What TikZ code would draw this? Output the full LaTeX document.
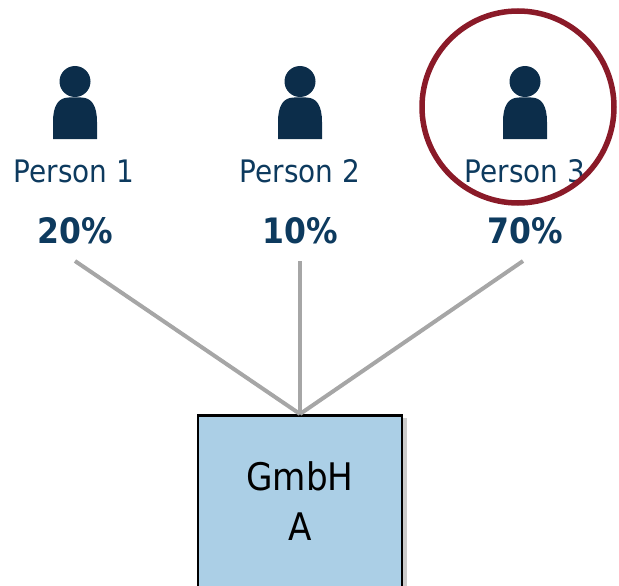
\documentclass[tikz,border=0pt]{standalone}
\usepackage{fontspec}
\setmainfont{DejaVu Sans Condensed}
\usetikzlibrary{shadows}
\definecolor{navy}{HTML}{0C2D4A}
\definecolor{txtnavy}{HTML}{0D3A5E}
\definecolor{boxblue}{HTML}{ABCFE6}
\definecolor{linegray}{HTML}{A6A6A6}
\definecolor{ringred}{HTML}{8A1A28}
\tikzset{
  pname/.style={anchor=base, text=txtnavy, font=\fontsize{31}{33}\selectfont, inner sep=0pt},
  pct/.style={anchor=base, text=txtnavy, font=\bfseries\fontsize{35}{36}\selectfont, inner sep=0pt},
  boxtext/.style={anchor=base, font=\fontsize{38}{40}\selectfont, inner sep=0pt},
  share/.style={draw=linegray, line width=4pt},
  gmbh/.style={draw=black, line width=2.5pt, fill=boxblue, minimum width=204pt, minimum height=200pt, anchor=north,
    drop shadow={shadow xshift=5pt, shadow yshift=-3pt, fill=black, opacity=0.2}},
  ring/.style={draw=ringred, line width=5.5pt},
  person/.pic={
    \fill[navy] (0,81.5) circle (15.5);
    \fill[navy] (-22,139) -- (-22,122) .. controls (-22,106) and (-17,97.5) .. (-6,97.5)
      -- (6,97.5) .. controls (17,97.5) and (22,106) .. (22,122) -- (22,139) -- cycle;
  }
}
\begin{document}
\begin{tikzpicture}[x=1pt,y=-1pt]
\useasboundingbox (0,0) rectangle (619,586);
\clip (0,0) rectangle (619,586);
\pic at (75,0) {person};
\pic at (300,0) {person};
\pic at (525,0) {person};
\node[pname] (n1) at (74,182) {Person 1};
\node[pname] (n2) at (300,182) {Person 2};
\node[pname] (n3) at (525,182) {Person 3};
\node[pct] (s1) at (75,243) {20\%};
\node[pct] (s2) at (300,243) {10\%};
\node[pct] (s3) at (525,243) {70\%};
\coordinate (l1) at (75,261);
\coordinate (l2) at (300,261);
\coordinate (l3) at (523,261);
\node[gmbh] (box) at (300,414) {};
\node[boxtext] (g1) at (300,490) {GmbH};
\node[boxtext] (g2) at (300,540) {A};
\draw[share] (l1) -- (box.north);
\draw[share] (l2) -- (box.north);
\draw[share] (l3) -- (box.north);
\node[ring, circle, minimum size=192pt, inner sep=0pt] (hl) at (518,107) {};
\end{tikzpicture}
\end{document}
